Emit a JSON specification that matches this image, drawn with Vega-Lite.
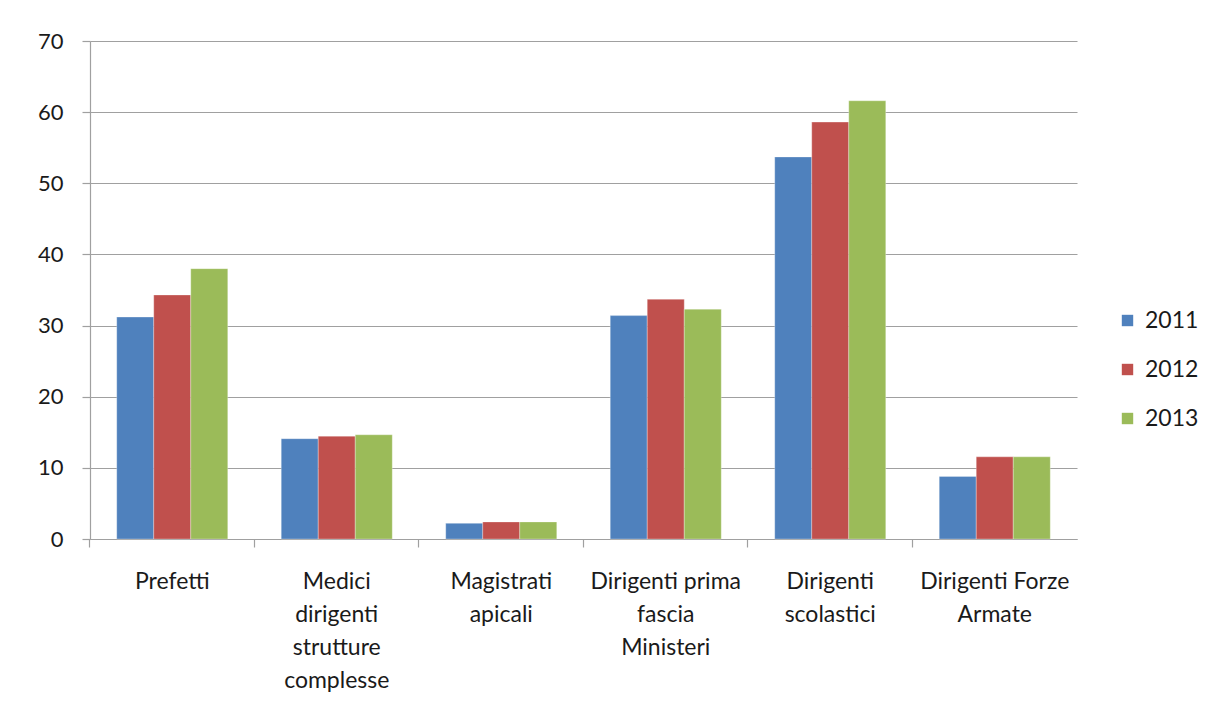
{
  "$schema": "https://vega.github.io/schema/vega-lite/v6.json",
  "autosize": {"type": "none"},
  "width": 987,
  "height": 498,
  "padding": {"left": 90, "top": 41, "right": 132, "bottom": 179},
  "background": "white",
  "data": {
    "values": [
      {"categoria": "Prefetti", "anno": "2011", "valore": 31.2},
      {"categoria": "Prefetti", "anno": "2012", "valore": 34.3},
      {"categoria": "Prefetti", "anno": "2013", "valore": 38.0},
      {"categoria": "Medici|dirigenti|strutture|complesse", "anno": "2011", "valore": 14.1},
      {"categoria": "Medici|dirigenti|strutture|complesse", "anno": "2012", "valore": 14.45},
      {"categoria": "Medici|dirigenti|strutture|complesse", "anno": "2013", "valore": 14.65},
      {"categoria": "Magistrati|apicali", "anno": "2011", "valore": 2.2},
      {"categoria": "Magistrati|apicali", "anno": "2012", "valore": 2.4},
      {"categoria": "Magistrati|apicali", "anno": "2013", "valore": 2.4},
      {"categoria": "Dirigenti prima|fascia|Ministeri", "anno": "2011", "valore": 31.4},
      {"categoria": "Dirigenti prima|fascia|Ministeri", "anno": "2012", "valore": 33.7},
      {"categoria": "Dirigenti prima|fascia|Ministeri", "anno": "2013", "valore": 32.3},
      {"categoria": "Dirigenti|scolastici", "anno": "2011", "valore": 53.7},
      {"categoria": "Dirigenti|scolastici", "anno": "2012", "valore": 58.6},
      {"categoria": "Dirigenti|scolastici", "anno": "2013", "valore": 61.6},
      {"categoria": "Dirigenti Forze|Armate", "anno": "2011", "valore": 8.8},
      {"categoria": "Dirigenti Forze|Armate", "anno": "2012", "valore": 11.55},
      {"categoria": "Dirigenti Forze|Armate", "anno": "2013", "valore": 11.55}
    ]
  },
  "mark": {"type": "bar", "stroke": "white", "strokeWidth": 0.5, "strokeOpacity": 0.6},
  "encoding": {
    "x": {
      "field": "categoria",
      "type": "nominal",
      "sort": null,
      "scale": {"paddingInner": 0.325, "paddingOuter": 0.1625},
      "axis": {
        "title": null,
        "labelAngle": 0,
        "labelExpr": "split(datum.value, '|')",
        "labelFontSize": 23,
        "labelLineHeight": 33,
        "labelPadding": 23,
        "labelColor": "#1a1a1a",
        "labelFont": "Lato",
        "bandPosition": -0.241,
        "ticks": true,
        "tickSize": 8,
        "tickColor": "#a0a0a0",
        "domainColor": "#a0a0a0",
        "grid": false
      }
    },
    "xOffset": {"field": "anno", "type": "nominal", "scale": {"paddingInner": 0, "paddingOuter": 0}},
    "y": {
      "field": "valore",
      "type": "quantitative",
      "scale": {"domain": [0, 70], "nice": false},
      "axis": {
        "title": null,
        "values": [0, 10, 20, 30, 40, 50, 60, 70],
        "labelFontSize": 22,
        "labelFont": "Lato",
        "labelColor": "#1a1a1a",
        "labelPadding": 19,
        "tickSize": 8,
        "tickColor": "#a0a0a0",
        "domainColor": "#a0a0a0",
        "gridColor": "#a0a0a0",
        "grid": true
      }
    },
    "color": {
      "field": "anno",
      "type": "nominal",
      "scale": {"domain": ["2011", "2012", "2013"], "range": ["#4f81bd", "#c0504d", "#9bbb59"]},
      "legend": {
        "title": null,
        "orient": "none",
        "legendX": 1026,
        "legendY": 268,
        "symbolType": "square",
        "symbolSize": 130,
        "symbolStrokeWidth": 0,
        "labelFontSize": 23,
        "labelFont": "Lato",
        "labelColor": "#1a1a1a",
        "rowPadding": 25,
        "labelOffset": 6
      }
    }
  },
  "config": {
    "view": {"stroke": null},
    "axis": {"domainWidth": 1.2, "gridWidth": 1.2, "tickWidth": 1.2}
  }
}
